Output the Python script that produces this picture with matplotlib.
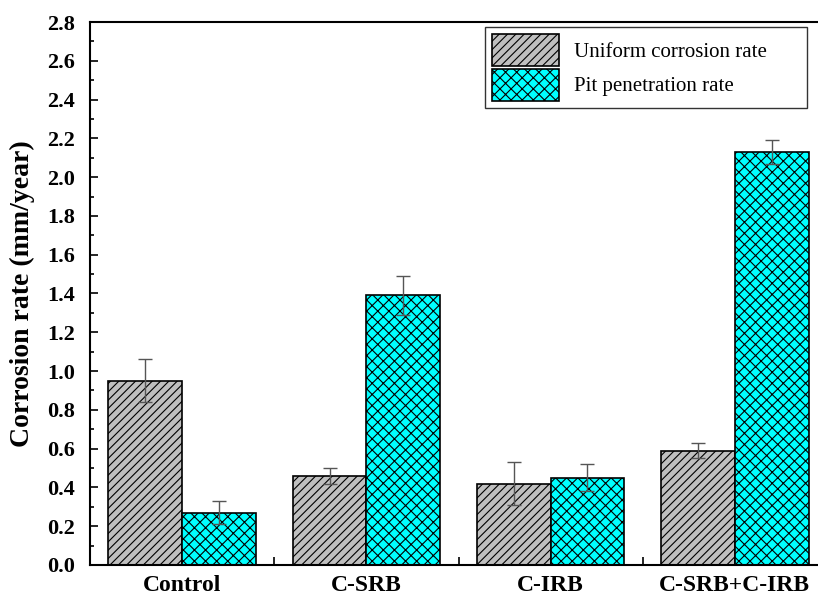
import matplotlib
matplotlib.use("Agg")
import matplotlib.pyplot as plt
import numpy as np
from matplotlib.ticker import MultipleLocator, FixedLocator, FormatStrFormatter

plt.rcParams["font.family"] = ["Liberation Serif", "DejaVu Serif"]
plt.rcParams["hatch.linewidth"] = 0.8

groups = ["Control", "C-SRB", "C-IRB", "C-SRB+C-IRB"]
uniform_rate = [0.95, 0.46, 0.42, 0.59]
uniform_err = [0.11, 0.04, 0.11, 0.04]
pit_rate = [0.27, 1.39, 0.45, 2.13]
pit_err = [0.06, 0.10, 0.07, 0.06]
series_labels = ["Uniform corrosion rate", "Pit penetration rate"]

fig = plt.figure(figsize=(8.18, 5.97), dpi=100)
ax = fig.add_axes([90 / 818, 1 - 565 / 597, 737 / 818, 543 / 597])

x = np.arange(len(groups))
w = 0.4
err_kw = dict(ecolor="#555555", elinewidth=1.0, capsize=5, capthick=1.0)
ax.bar(x - w / 2, uniform_rate, w, yerr=uniform_err, color="#bfbfbf",
       edgecolor="black", linewidth=1.2, hatch="////", label=series_labels[0],
       error_kw=err_kw)
ax.bar(x + w / 2, pit_rate, w, yerr=pit_err, color="#00ffff",
       edgecolor="black", linewidth=1.2, hatch="xxx", label=series_labels[1],
       error_kw=err_kw)

ax.set_xlim(-0.5, 3.5)
ax.set_ylim(0, 2.8)
ax.yaxis.set_major_locator(MultipleLocator(0.2))
ax.yaxis.set_minor_locator(MultipleLocator(0.1))
ax.yaxis.set_major_formatter(FormatStrFormatter("%.1f"))
ax.set_xticks(x)
ax.set_xticklabels(groups, fontsize=17, fontweight="bold")
ax.xaxis.set_minor_locator(FixedLocator([0.5, 1.5, 2.5]))
ax.tick_params(axis="x", which="major", length=0, pad=7)
ax.tick_params(axis="x", which="minor", direction="in", length=6, width=1.2)
ax.tick_params(axis="y", which="major", direction="in", length=6, width=1.2,
               labelsize=16, pad=11)
ax.tick_params(axis="y", which="minor", direction="in", length=3, width=1.2)
for lab in ax.get_yticklabels():
    lab.set_fontweight("bold")
ax.set_ylabel("Corrosion rate (mm/year)", fontsize=20, fontweight="bold")
ax.yaxis.set_label_coords(-55 / 737, 0.5)
for s in ax.spines.values():
    s.set_linewidth(1.5)

leg = ax.legend(loc="upper left",
                bbox_to_anchor=(395 / 737, 0.0, 322 / 737, 1 - 5 / 543),
                mode="expand",
                fontsize=15, frameon=True, fancybox=False, edgecolor="black",
                handlelength=3.2, handleheight=2.0, labelspacing=0.1,
                borderpad=0.35, handletextpad=0.7, borderaxespad=0)
leg.get_frame().set_linewidth(1.0)

fig.savefig("out.png", dpi=100)
